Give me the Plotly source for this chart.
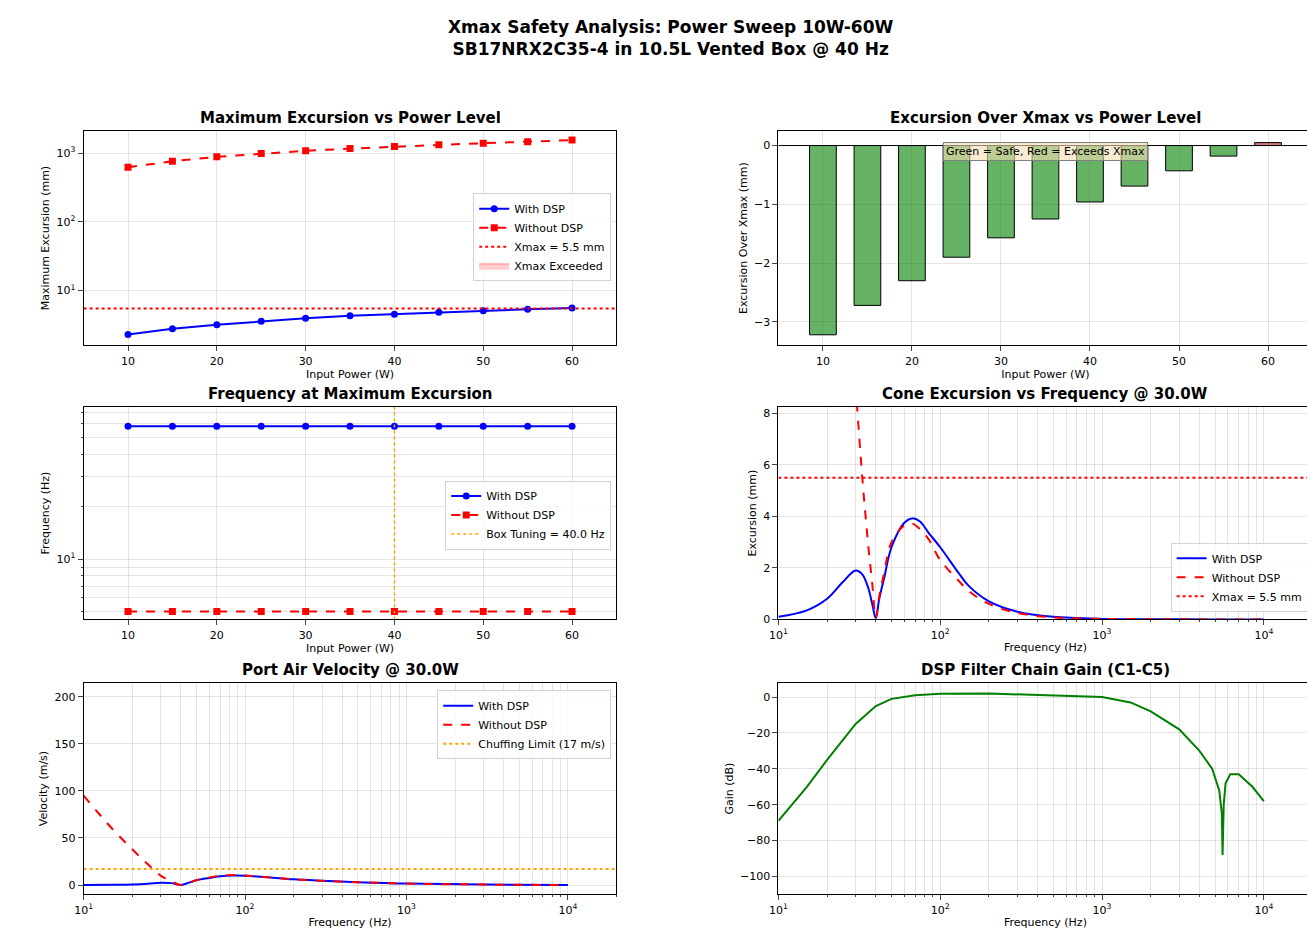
import plotly.graph_objects as go
import numpy as np

power = [10, 15, 20, 25, 30, 35, 40, 45, 50, 55, 60]
exc_dsp = [2.3, 2.8, 3.2, 3.6, 3.95, 4.3, 4.55, 4.85, 5.1, 5.35, 5.6]
exc_nodsp = [620, 760, 880, 980, 1075, 1160, 1240, 1315, 1390, 1460, 1540]
xmax = 5.5
over_xmax = [-3.22, -2.72, -2.3, -1.9, -1.57, -1.25, -0.96, -0.69, -0.43, -0.18, 0.05]
fmax_dsp = [58] * 11
fmax_nodsp = [5] * 11
box_tuning = 40.0

f_exc = [10, 15, 20, 25, 30, 33, 36, 38, 40, 42, 45, 50, 60, 67, 75, 85, 100, 130, 150, 200, 300, 500, 1000, 2000, 5000, 10000]
cone_dsp = [0.1, 0.35, 0.8, 1.45, 1.9, 1.75, 1.2, 0.6, 0.05, 0.8, 1.6, 2.8, 3.75, 3.92, 3.8, 3.35, 2.8, 1.8, 1.3, 0.7, 0.3, 0.1, 0.02, 0.01, 0.0, 0.0]
cone_nodsp = [60, 38, 25, 15, 9, 5.5, 2.8, 1.4, 0.05, 0.9, 1.8, 3.0, 3.65, 3.72, 3.5, 3.1, 2.3, 1.5, 1.1, 0.6, 0.25, 0.08, 0.02, 0.01, 0.0, 0.0]

f_port = [10, 15, 20, 25, 30, 35, 40, 45, 50, 60, 70, 85, 100, 120, 200, 300, 500, 1000, 3000, 10000]
port_dsp = [0, 0.2, 0.5, 1.3, 2.5, 2.0, 0, 2.5, 5, 7.5, 9.2, 10, 9.8, 9, 6, 4.5, 3, 1.5, 0.5, 0]
port_nodsp = [95, 60, 38, 22, 10, 4, 0, 2.5, 5, 8, 9.8, 10.5, 10.2, 9, 6, 4.5, 3, 1.5, 0.5, 0]
chuff = 17

f_gain = [10, 15, 20, 30, 40, 50, 70, 100, 200, 500, 1000, 1500, 2000, 3000, 4000, 4800, 5300, 5500, 5560, 5650, 5800, 6200, 7000, 8500, 10000]
gain = [-69, -50, -35, -15, -5, -1, 1, 1.8, 2, 1, 0, -3, -8, -18, -30, -40, -52, -65, -88, -60, -48, -43, -43, -50, -58]

fig = go.Figure()
font = dict(family="DejaVu Sans", size=11, color="black")

X = {1: [0.051, 0.459], 2: [0.583, 0.992], 3: [0.051, 0.459], 4: [0.583, 0.992], 5: [0.051, 0.459], 6: [0.583, 0.992]}
Y = {1: [0.643, 0.870], 2: [0.643, 0.870], 3: [0.353, 0.578], 4: [0.353, 0.578], 5: [0.062, 0.286], 6: [0.062, 0.286]}
titles = {1: "Maximum Excursion vs Power Level", 2: "Excursion Over Xmax vs Power Level",
          3: "Frequency at Maximum Excursion", 4: "Cone Excursion vs Frequency @ 30.0W",
          5: "Port Air Velocity @ 30.0W", 6: "DSP Filter Chain Gain (C1-C5)"}
grid = "rgba(0,0,0,0.1)"
logticks = dict(tickvals=[10, 100, 1000, 10000], ticktext=["10<sup>1</sup>", "10<sup>2</sup>", "10<sup>3</sup>", "10<sup>4</sup>"])
minor_f = [m * 10 ** d for d in range(1, 5) for m in range(2, 10)] + [20000]
minor_y3 = [5, 6, 7, 8, 9, 20, 30, 40, 50, 60, 70]

def ax(i, xt, yt, xkw, ykw):
    s = "" if i == 1 else str(i)
    base = dict(showline=True, mirror=True, linecolor="black", linewidth=1, ticks="outside",
                gridcolor=grid, zeroline=False, tickfont=font, title_font=font)
    fig.update_layout(**{
        "xaxis" + s: dict(base, domain=X[i], anchor="y" + s, title=dict(text=xt, standoff=2), **xkw),
        "yaxis" + s: dict(base, domain=Y[i], anchor="x" + s, title=dict(text=yt, standoff=4), **ykw)})
    fig.add_annotation(text="<b>" + titles[i] + "</b>", xref="paper", yref="paper",
                       x=sum(X[i]) / 2, y=Y[i][1], xanchor="center", yanchor="bottom", showarrow=False, yshift=2,
                       font=dict(family="DejaVu Sans", size=15))

logf = dict(type="log", range=[1, np.log10(20000)],
            minor=dict(tickvals=minor_f, showgrid=True, gridcolor=grid, ticks="outside", ticklen=2), **logticks)

# Panel 1
fig.add_trace(go.Scatter(x=power, y=exc_dsp, mode="lines+markers", name="With DSP", line=dict(color="blue", width=2), marker=dict(size=7), xaxis="x", yaxis="y", legend="legend"))
fig.add_trace(go.Scatter(x=power, y=exc_nodsp, mode="lines+markers", name="Without DSP", line=dict(color="red", width=2, dash="dash"), marker=dict(symbol="square", size=7), xaxis="x", yaxis="y", legend="legend"))
fig.add_trace(go.Scatter(x=[5, 65], y=[xmax, xmax], mode="lines", name="Xmax = 5.5 mm", line=dict(color="red", width=2, dash="dot"), xaxis="x", yaxis="y", legend="legend"))
fig.add_trace(go.Scatter(x=[None], y=[None], mode="lines", fill="toself", fillcolor="rgba(255,0,0,0.2)", line=dict(color="rgba(255,0,0,0.2)"), name="Xmax Exceeded", xaxis="x", yaxis="y", legend="legend"))
ax(1, "Input Power (W)", "Maximum Excursion (mm)", dict(range=[5, 65], dtick=10),
   dict(type="log", range=[np.log10(1.6), np.log10(2100)], tickvals=[10, 100, 1000], ticktext=["10<sup>1</sup>", "10<sup>2</sup>", "10<sup>3</sup>"]))

# Panel 2
cols = ["rgba(0,128,0,0.6)" if v < 0 else "rgba(178,34,34,0.6)" for v in over_xmax]
fig.add_trace(go.Bar(x=power, y=over_xmax, width=3, marker=dict(color=cols, line=dict(color="black", width=1)), showlegend=False, xaxis="x2", yaxis="y2"))
fig.add_shape(type="line", xref="x2", yref="y2", x0=5, x1=65, y0=0, y1=0, line=dict(color="black", width=1))
fig.add_annotation(text="Green = Safe, Red = Exceeds Xmax", xref="x2", yref="y2", x=35, y=-0.1, showarrow=False,
                   bgcolor="rgba(245,222,179,0.6)", bordercolor="gray", borderwidth=1, borderpad=2, font=font)
ax(2, "Input Power (W)", "Excursion Over Xmax (mm)", dict(range=[5, 65], dtick=10), dict(range=[-3.4, 0.25], tickvals=[-3, -2, -1, 0], ticktext=["−3", "−2", "−1", "0"]))

# Panel 3
fig.add_trace(go.Scatter(x=power, y=fmax_dsp, mode="lines+markers", name="With DSP", line=dict(color="blue", width=2), marker=dict(size=7), xaxis="x3", yaxis="y3", legend="legend2"))
fig.add_trace(go.Scatter(x=power, y=fmax_nodsp, mode="lines+markers", name="Without DSP", line=dict(color="red", width=2, dash="dash"), marker=dict(symbol="square", size=7), xaxis="x3", yaxis="y3", legend="legend2"))
fig.add_trace(go.Scatter(x=[box_tuning, box_tuning], y=[4.5, 75], mode="lines", name="Box Tuning = 40.0 Hz", line=dict(color="orange", width=1.5, dash="dot"), xaxis="x3", yaxis="y3", legend="legend2"))
ax(3, "Input Power (W)", "Frequency (Hz)", dict(range=[5, 65], dtick=10),
   dict(type="log", range=[np.log10(4.5), np.log10(75)], tickvals=[10], ticktext=["10<sup>1</sup>"],
        minor=dict(tickvals=minor_y3, showgrid=True, gridcolor=grid, ticks="outside", ticklen=2)))

# Panel 4
fig.add_trace(go.Scatter(x=f_exc, y=cone_dsp, mode="lines", line_shape="spline", name="With DSP", line=dict(color="blue", width=2), xaxis="x4", yaxis="y4", legend="legend3"))
fig.add_trace(go.Scatter(x=f_exc, y=cone_nodsp, mode="lines", line_shape="spline", name="Without DSP", line=dict(color="red", width=2, dash="dash"), xaxis="x4", yaxis="y4", legend="legend3"))
fig.add_trace(go.Scatter(x=[10, 20000], y=[xmax, xmax], mode="lines", name="Xmax = 5.5 mm", line=dict(color="red", width=2, dash="dot"), xaxis="x4", yaxis="y4", legend="legend3"))
ax(4, "Frequency (Hz)", "Excursion (mm)", logf, dict(range=[0, 8.25], dtick=2))

# Panel 5
fig.add_trace(go.Scatter(x=f_port, y=port_dsp, mode="lines", line_shape="spline", name="With DSP", line=dict(color="blue", width=2), xaxis="x5", yaxis="y5", legend="legend4"))
fig.add_trace(go.Scatter(x=f_port, y=port_nodsp, mode="lines", line_shape="spline", name="Without DSP", line=dict(color="red", width=2, dash="dash"), xaxis="x5", yaxis="y5", legend="legend4"))
fig.add_trace(go.Scatter(x=[10, 20000], y=[chuff, chuff], mode="lines", name="Chuffing Limit (17 m/s)", line=dict(color="orange", width=2, dash="dot"), xaxis="x5", yaxis="y5", legend="legend4"))
ax(5, "Frequency (Hz)", "Velocity (m/s)", logf, dict(range=[-10, 215], dtick=50))

# Panel 6
fig.add_trace(go.Scatter(x=f_gain, y=gain, mode="lines", name="Gain", line=dict(color="green", width=2), showlegend=False, xaxis="x6", yaxis="y6"))
ax(6, "Frequency (Hz)", "Gain (dB)", logf, dict(range=[-110, 8], tickvals=[-100, -80, -60, -40, -20, 0], ticktext=["−100", "−80", "−60", "−40", "−20", "0"]))

leg = dict(bgcolor="rgba(255,255,255,0.8)", bordercolor="lightgray", borderwidth=1, font=font, xanchor="right", tracegroupgap=0)
fig.update_layout(
    width=1315, height=952, margin=dict(l=0, r=0, t=0, b=0),
    paper_bgcolor="white", plot_bgcolor="white", font=font,
    legend=dict(leg, x=0.455, y=0.804, yanchor="top"),
    legend2=dict(leg, x=0.455, y=0.500, yanchor="top"),
    legend3=dict(leg, x=0.989, y=0.361, yanchor="bottom"),
    legend4=dict(leg, x=0.455, y=0.278, yanchor="top"),
)
fig.add_annotation(text="<b>Xmax Safety Analysis: Power Sweep 10W-60W<br>SB17NRX2C35-4 in 10.5L Vented Box @ 40 Hz</b>",
                   xref="paper", yref="paper", x=0.5, y=0.993, xanchor="center", yanchor="top", showarrow=False,
                   font=dict(family="DejaVu Sans", size=17))
fig.write_html("out.html")
